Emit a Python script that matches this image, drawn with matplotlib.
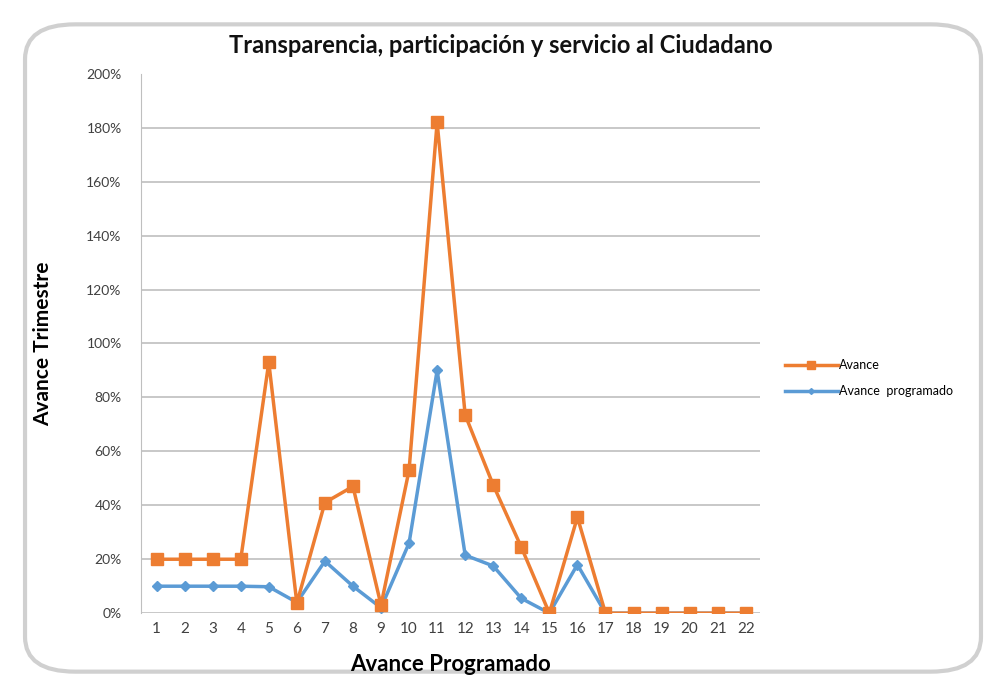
import matplotlib
matplotlib.use("Agg")
from matplotlib import pyplot as plt
from matplotlib.patches import FancyBboxPatch
from matplotlib.ticker import PercentFormatter

# chart values (percent)
categories = list(range(1, 23))
avance = [20, 20, 20, 20, 93, 3.7, 41, 47, 3, 53, 182, 73.5, 47.5, 24.5, 0, 35.6,
          0, 0, 0, 0, 0, 0]
avance_programado = [10, 10, 10, 10, 9.8, 4, 19.3, 10, 2, 26, 90, 21.5, 17.5, 5.5, 0, 18,
                     0, 0, 0, 0, 0, 0]

plt.rcParams['font.family'] = ['Lato', 'DejaVu Sans']

fig = plt.figure(figsize=(10.01, 6.96), dpi=100)

# rounded frame around the chart
frame = FancyBboxPatch((0.025, 0.035), 0.955, 0.93,
                       boxstyle="round,pad=0,rounding_size=0.05",
                       transform=fig.transFigure, facecolor="white",
                       edgecolor="#d0d0d0", linewidth=3, zorder=-5)
fig.patches.append(frame)

ax = fig.add_axes([0.141, 0.119, 0.618, 0.775])
ax.set_zorder(2)
ax.set_facecolor("none")

orange = "#ED7D31"
blue = "#5B9BD5"

ax.plot(categories, avance_programado, color=blue, lw=2.5, marker="D",
        markersize=5, label="Avance  programado", zorder=3)
ax.plot(categories, avance, color=orange, lw=2.5, marker="s",
        markersize=9, label="Avance", zorder=4)

ax.set_xlim(0.45, 22.5)
ax.set_ylim(0, 200)
ax.set_yticks(range(0, 201, 20))
ax.yaxis.set_major_formatter(PercentFormatter(decimals=0))
ax.set_xticks(categories)
ax.grid(axis="y", color="#bfbfbf", lw=1.2)
ax.yaxis.get_gridlines()[-1].set_visible(False)
ax.set_axisbelow(True)
for s in ["top", "right", "bottom"]:
    ax.spines[s].set_visible(False)
ax.spines["left"].set_color("#bfbfbf")
ax.tick_params(axis="both", length=0, colors="#404040", labelsize=10)
ax.tick_params(axis="x", labelsize=11, pad=6)
ax.tick_params(axis="y", pad=14)

fig.text(0.5, 0.935, "Transparencia, participación y servicio al Ciudadano",
         ha="center", va="center", fontsize=17, fontweight="bold", color="#111111")
ax.set_xlabel("Avance Programado", fontsize=16, fontweight="bold", labelpad=13)
ax.set_ylabel("Avance Trimestre", fontsize=15, fontweight="bold", labelpad=24)

h, l = ax.get_legend_handles_labels()
leg = fig.legend(h[::-1], l[::-1], loc="upper left", bbox_to_anchor=(0.773, 0.5),
                 frameon=False, fontsize=9, handlelength=4.2, handletextpad=0.1,
                 markerscale=0.6, labelspacing=1.1)
leg.set_zorder(3)

fig.savefig("out.png", dpi=100)
